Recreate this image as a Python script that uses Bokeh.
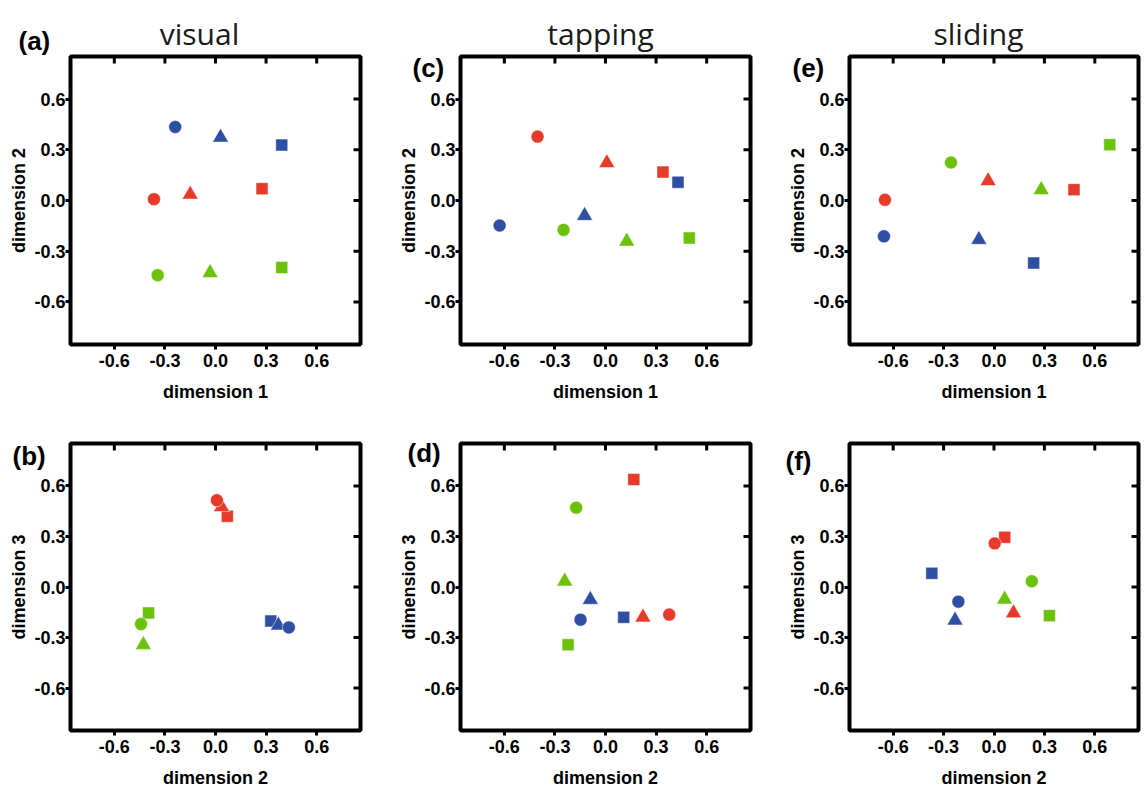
import math
from bokeh.plotting import figure
from bokeh.models import (Range1d, FixedTicker, Label, NumeralTickFormatter,
                          ColumnDataSource, GridBox)
from bokeh.layouts import column
from bokeh.embed import file_html
from bokeh.resources import INLINE

# ---------------- data ----------------
# stimulus order: red circle, red triangle, red square,
#                 blue circle, blue triangle, blue square,
#                 green circle, green triangle, green square
stim_colors = ["#e63a2a"] * 3 + ["#2e4fa4"] * 3 + ["#6cc10b"] * 3
stim_markers = ["circle", "triangle", "square"] * 3

visual_dim1 = [-0.365, -0.150, 0.276, -0.239, 0.030, 0.393, -0.343, -0.032, 0.393]
visual_dim2 = [0.008, 0.036, 0.070, 0.435, 0.373, 0.328, -0.442, -0.428, -0.397]
visual_dim3 = [0.515, 0.475, 0.420, -0.240, -0.228, -0.202, -0.220, -0.343, -0.154]

tapping_dim1 = [-0.403, 0.008, 0.341, -0.628, -0.124, 0.430, -0.249, 0.126, 0.497]
tapping_dim2 = [0.378, 0.222, 0.168, -0.148, -0.090, 0.108, -0.174, -0.242, -0.222]
tapping_dim3 = [-0.164, -0.180, 0.638, -0.194, -0.075, -0.180, 0.471, 0.034, -0.343]

sliding_dim1 = [-0.649, -0.035, 0.476, -0.655, -0.090, 0.236, -0.256, 0.281, 0.689]
sliding_dim2 = [0.004, 0.116, 0.064, -0.212, -0.232, -0.370, 0.225, 0.063, 0.330]
sliding_dim3 = [0.259, -0.155, 0.295, -0.087, -0.198, 0.081, 0.034, -0.073, -0.170]

tick_values = [-0.6, -0.3, 0.0, 0.3, 0.6]
column_titles = ["visual", "tapping", "sliding"]
panel_letters = [["(a)", "(c)", "(e)"], ["(b)", "(d)", "(f)"]]
axis_labels = [("dimension 1", "dimension 2"), ("dimension 2", "dimension 3")]

# ---------------- styling / layout ----------------
FONT = "Liberation Sans"
W, H = 1145, 790
FRAME_W, FRAME_H = 290, 288
XR, YR = 0.86, 0.852

col_borders = [(70, 30), (70, 35), (63, 7)]        # left, right  -> widths 390, 395, 360
row_borders = [(56, 62), (37, 59)]                 # top, bottom  -> heights 406, 384
marker_sizes = {"circle": 13, "triangle": 16, "square": 12}
draw_order = ["square", "triangle", "circle"]

# text positions on the page (x, baseline y)
title_pos = [(199, 33), (600, 33), (978, 33)]
letter_pos = [[(18, 40), (412, 67), (792, 67)],
              [(12, 455), (407, 452), (785, 460)]]


def style_axis(ax, label):
    ax.ticker = FixedTicker(ticks=tick_values)
    ax.formatter = NumeralTickFormatter(format="0.0")
    ax.axis_line_color = None
    ax.major_tick_line_color = "black"
    ax.major_tick_line_width = 3
    ax.major_tick_out = 5
    ax.major_tick_in = 0
    ax.minor_tick_line_color = None
    ax.major_label_text_font = FONT
    ax.major_label_text_font_style = "bold"
    ax.major_label_text_font_size = "18px"
    ax.major_label_text_color = "black"
    ax.axis_label = label
    ax.axis_label_text_font = FONT
    ax.axis_label_text_font_style = "bold"
    ax.axis_label_text_font_size = "18px"
    ax.axis_label_text_color = "black"


def make_panel(r, c, xs, ys):
    bl, br = col_borders[c]
    bt, bb = row_borders[r]
    p = figure(width=bl + FRAME_W + br, height=bt + FRAME_H + bb,
               x_range=Range1d(-XR, XR), y_range=Range1d(-YR, YR),
               output_backend="svg", toolbar_location=None,
               min_border_left=bl, min_border_right=br,
               min_border_top=bt, min_border_bottom=bb)
    p.background_fill_color = "white"
    p.border_fill_color = "white"
    p.xgrid.visible = False
    p.ygrid.visible = False
    p.outline_line_color = "black"
    p.outline_line_width = 4
    p.outline_line_alpha = 1.0

    xl, yl = axis_labels[r]
    style_axis(p.xaxis[0], xl)
    p.xaxis[0].major_label_standoff = 4
    p.xaxis[0].axis_label_standoff = 12
    style_axis(p.yaxis[0], yl)
    p.yaxis[0].major_label_standoff = 0
    p.yaxis[0].axis_label_standoff = 2

    # mirrored inward ticks on the top and right edges (half of each dash is clipped by the frame)
    n = len(tick_values)
    p.scatter(tick_values, [YR] * n, marker="dash", size=14, angle=math.pi / 2,
              line_color="black", line_width=3)
    p.scatter([XR] * n, tick_values, marker="dash", size=14, angle=0,
              line_color="black", line_width=3)

    for m in draw_order:
        idx = [i for i, mk in enumerate(stim_markers) if mk == m]
        src = ColumnDataSource(dict(x=[xs[i] for i in idx],
                                    y=[ys[i] for i in idx],
                                    color=[stim_colors[i] for i in idx]))
        p.scatter("x", "y", source=src, marker=m, size=marker_sizes[m],
                  fill_color="color", line_color="white", line_width=0.5)
    return p


data = [
    [(visual_dim1, visual_dim2), (tapping_dim1, tapping_dim2), (sliding_dim1, sliding_dim2)],
    [(visual_dim2, visual_dim3), (tapping_dim2, tapping_dim3), (sliding_dim2, sliding_dim3)],
]

children = []
for r in range(2):
    for c in range(3):
        children.append((make_panel(r, c, *data[r][c]), r, c))

# transparent overlay carrying the column titles and panel letters
ov = figure(width=W, height=H, x_range=Range1d(0, W), y_range=Range1d(H, 0),
            output_backend="svg", toolbar_location=None,
            x_axis_location=None, y_axis_location=None,
            min_border=0, min_border_left=0, min_border_right=0,
            min_border_top=0, min_border_bottom=0)
ov.grid.visible = False
ov.outline_line_color = None
ov.background_fill_color = None
ov.border_fill_color = None
for c in range(3):
    tx, ty = title_pos[c]
    ov.add_layout(Label(x=tx, y=ty, text=column_titles[c], text_font="Open Sans",
                        text_font_size="30px", text_align="center",
                        text_baseline="alphabetic", text_color="#1a1a1a"))
for r in range(2):
    for c in range(3):
        lx, ly = letter_pos[r][c]
        ov.add_layout(Label(x=lx, y=ly, text=panel_letters[r][c], text_font=FONT,
                            text_font_style="bold", text_font_size="26px",
                            text_align="left", text_baseline="alphabetic",
                            text_color="black"))
children.append((column(ov), 0, 0, 2, 3))

layout = GridBox(children=children, spacing=0)

open("out.html", "w").write(file_html(layout, INLINE))
